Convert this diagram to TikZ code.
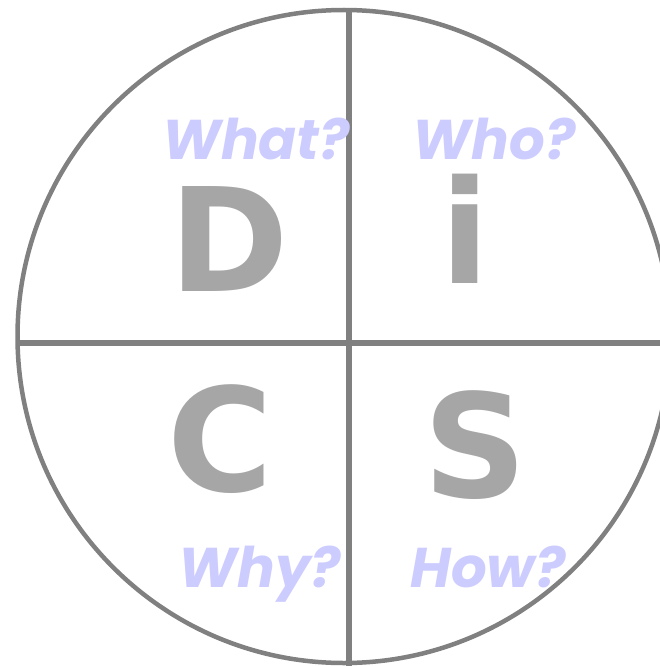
\documentclass[tikz,border=0pt]{standalone}
\usepackage{fontspec}
\usepackage{tikz}
\newfontfamily\discfont{DejaVu Sans}
\newfontfamily\askfont{Poppins}
\definecolor{discedge}{RGB}{128,128,128}
\definecolor{discletter}{RGB}{166,166,166}
\definecolor{discask}{RGB}{204,204,255}
\tikzset{
  letter/.style={
    font=\discfont\bfseries\fontsize{144}{144}\selectfont,
    text=discletter, inner sep=0pt, anchor=base
  },
  ask/.style={
    font=\askfont\bfseries\itshape\fontsize{56}{56}\selectfont,
    text=discask, inner sep=0pt, anchor=base
  },
  rim/.style={draw=discedge, line width=4.5pt},
  axis/.style={draw=discedge, line width=5.5pt}
}

\begin{document}
\begin{tikzpicture}[x=1pt,y=-1pt]
  \useasboundingbox (0,0) rectangle (660,666);
  \clip (0,0) rectangle (660,666);
  % wheel and quarters
  \draw[rim] (344,336.5) circle[radius=326.5];
  \draw[axis] (349,10) -- (349,666);
  \draw[axis] (16,343) -- (660,343);
  % the four styles
  \node[letter] (dom) at (229.5,291.7) {D};
  \node[letter] (infl) at (465,283) {i};
  \node[letter] (cons) at (220.5,491) {C};
  \node[letter] (stead) at (475.6,497) {S};
  % their questions
  \node[ask] (what) at (256,159) {What?};
  \node[ask] (who) at (494,159) {Who?};
  \node[ask] (why) at (260,587) {Why?};
  \node[ask] (how) at (488,587) {How?};
\end{tikzpicture}
\end{document}
